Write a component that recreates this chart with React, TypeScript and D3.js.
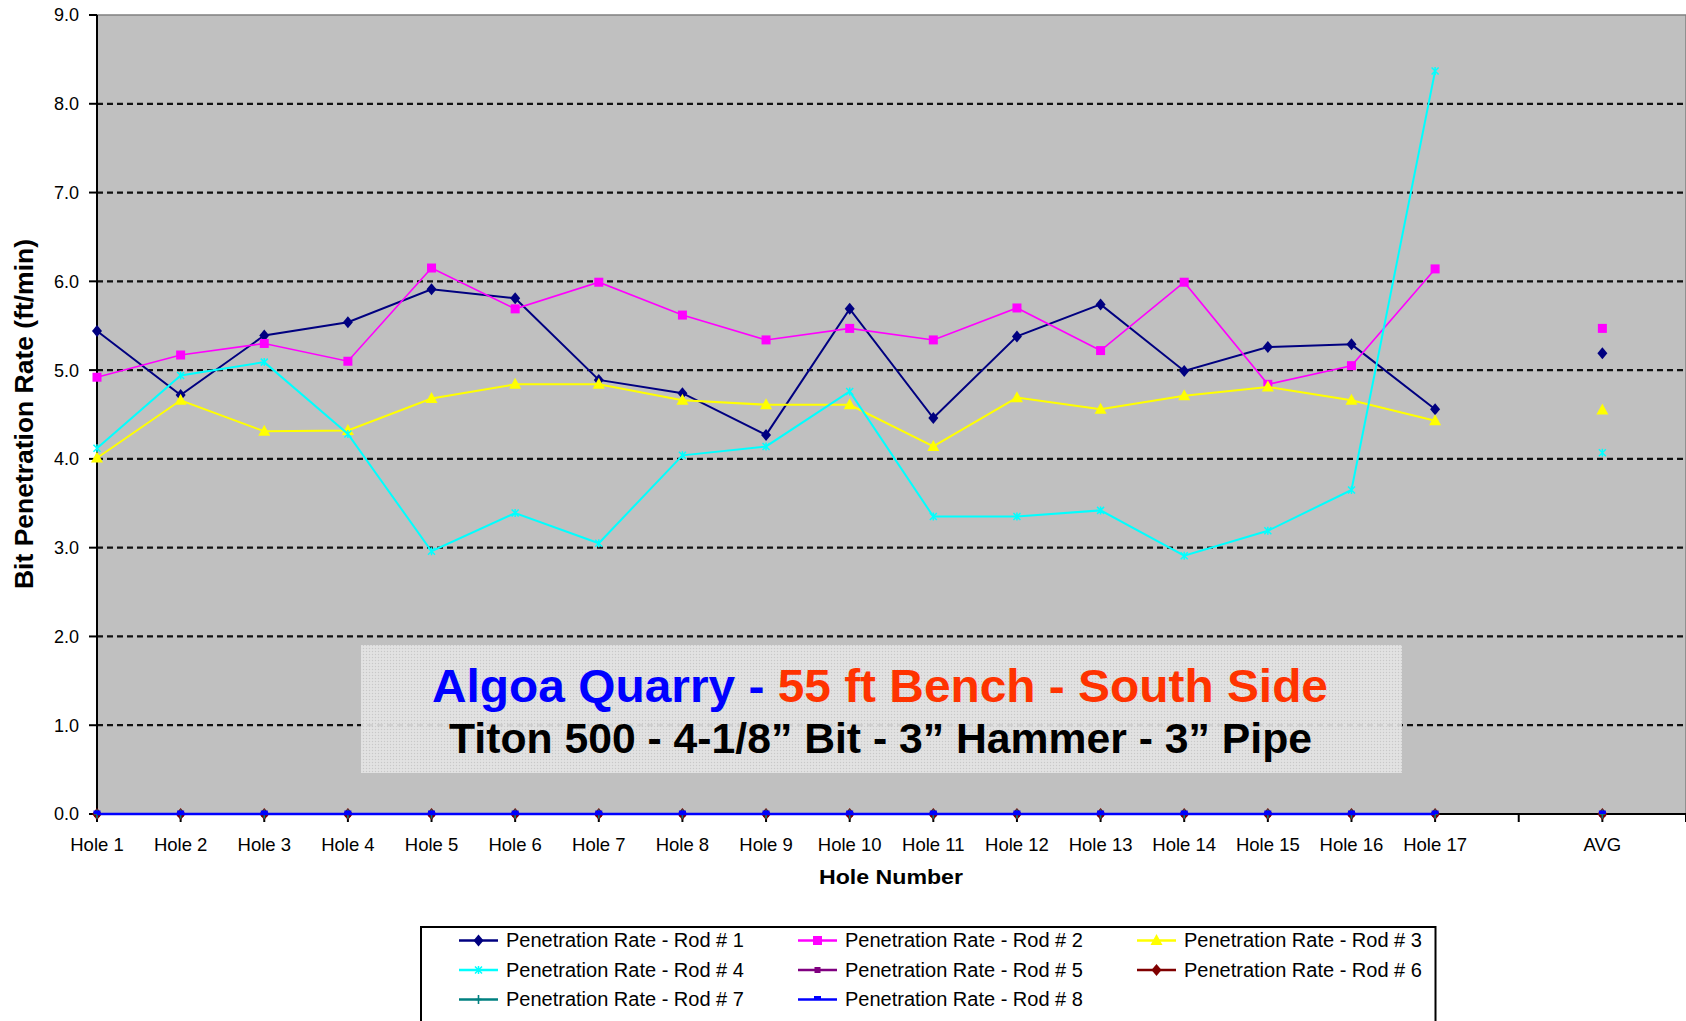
import React from "react";
import * as d3 from "d3";

const categories = ["Hole 1","Hole 2","Hole 3","Hole 4","Hole 5","Hole 6","Hole 7","Hole 8","Hole 9","Hole 10","Hole 11","Hole 12","Hole 13","Hole 14","Hole 15","Hole 16","Hole 17","","AVG"];

// null = no value (blank category)
const rod1 = [5.44,4.72,5.39,5.54,5.91,5.81,4.89,4.74,4.27,5.69,4.46,5.38,5.74,4.99,5.26,5.29,4.56,null,5.19];
const rod2 = [4.92,5.17,5.30,5.10,6.15,5.69,5.99,5.62,5.34,5.47,5.34,5.70,5.22,5.99,4.84,5.05,6.14,null,5.47];
const rod3 = [4.01,4.66,4.31,4.32,4.68,4.84,4.84,4.66,4.61,4.61,4.14,4.69,4.56,4.71,4.81,4.66,4.43,null,4.55];
const rod4 = [4.12,4.94,5.09,4.28,2.96,3.39,3.05,4.04,4.14,4.76,3.35,3.35,3.42,2.91,3.19,3.65,8.37,null,4.07];
const rod5 = [0,0,0,0,0,0,0,0,0,0,0,0,0,0,0,0,0,null,0];
const rod6 = [0,0,0,0,0,0,0,0,0,0,0,0,0,0,0,0,0,null,0];
const rod7 = [0,0,0,0,0,0,0,0,0,0,0,0,0,0,0,0,0,null,0];
const rod8 = [0,0,0,0,0,0,0,0,0,0,0,0,0,0,0,0,0,null,0];

const seriesNames = ["Penetration Rate - Rod # 1","Penetration Rate - Rod # 2","Penetration Rate - Rod # 3","Penetration Rate - Rod # 4","Penetration Rate - Rod # 5","Penetration Rate - Rod # 6","Penetration Rate - Rod # 7","Penetration Rate - Rod # 8"];
const seriesColors = ["#000080","#FF00FF","#FFFF00","#00FFFF","#800080","#800000","#008080","#0000FF"];
const seriesMarkers = ["diamond","square","triangle","x","smallsquare","diamond","plus","dash"];
const seriesWidths = [2,1.6,2,2,2,2,2,2.5];

const yTicks = [0,1,2,3,4,5,6,7,8,9];

const W = 1686, H = 1021;
const plotLeft = 97, plotRight = 1686, plotTop = 15, plotBottom = 814;
const FONT = "'Liberation Sans', Arial, Helvetica, sans-serif";

function Marker({ type, color, x, y }: { type: string; color: string; x: number; y: number }) {
  const t = `translate(${x},${y})`;
  switch (type) {
    case "diamond":
      return <path transform={t} d="M0,-6L5,0L0,6L-5,0Z" fill={color} />;
    case "square":
      return <rect transform={t} x={-4.5} y={-4.5} width={9} height={9} fill={color} />;
    case "triangle":
      return <path transform={t} d="M0,-6.5L6,4.5L-6,4.5Z" fill={color} />;
    case "x":
      return <path transform={t} d="M-3.5,-3.5L3.5,3.5M-3.5,3.5L3.5,-3.5M0,-4L0,4" stroke={color} strokeWidth={1.5} fill="none" />;
    case "smallsquare":
      return <rect transform={t} x={-3} y={-3} width={6} height={6} fill={color} />;
    case "plus":
      return <path transform={t} d="M0,-4.5L0,4.5M-3,0L3,0" stroke={color} strokeWidth={1.6} fill="none" />;
    case "dash":
      return <rect transform={t} x={-3.5} y={-3.5} width={7} height={3.5} fill={color} />;
    default:
      return null;
  }
}

export default function App() {
  const allSeries = [rod1, rod2, rod3, rod4, rod5, rod6, rod7, rod8];
  const x = d3.scaleLinear().domain([0, categories.length]).range([plotLeft, plotRight]);
  const y = d3.scaleLinear().domain([0, 9]).range([plotBottom, plotTop]);
  const line = d3
    .line<number | null>()
    .defined((d) => d !== null)
    .x((_, i) => x(i))
    .y((d) => y(d as number));

  const tickIdx = d3.range(categories.length + 1);

  const legendX = 421, legendY = 927;
  const legendCols = [0, 339, 678];
  const legendRows = [947, 976.5, 1006];

  return (
    <svg width={W} height={H} style={{ position: "absolute", left: 0, top: 0, background: "#fff" }} fontFamily={FONT}>
      <defs>
        <pattern id="stip" width={3} height={3} patternUnits="userSpaceOnUse">
          <rect width={3} height={3} fill="#e2e2e2" />
          <rect width={1} height={1} fill="#c9c9c9" />
          <rect x={1.5} y={1.5} width={1} height={1} fill="#f2f2f2" />
        </pattern>
      </defs>
      {/* plot area */}
      <rect x={plotLeft} y={plotTop} width={plotRight - plotLeft} height={plotBottom - plotTop} fill="#C0C0C0" stroke="#808080" strokeWidth={1.5} />
      {/* gridlines */}
      {yTicks.filter((t) => t > 0 && t < 9).map((t) => (
        <line key={t} x1={plotLeft} x2={plotRight} y1={y(t)} y2={y(t)} stroke="#111" strokeWidth={2.2} strokeDasharray="6,4" />
      ))}
      {/* title box */}
      <rect x={361} y={645} width={1041} height={128} fill="url(#stip)" opacity={0.9} />
      <text x={880} y={701.5} fontSize={46} fontWeight="bold" textAnchor="middle" textLength={896} lengthAdjust="spacingAndGlyphs">
        <tspan fill="#0000FF">Algoa Quarry - </tspan>
        <tspan fill="#FF3300">55 ft Bench - South Side</tspan>
      </text>
      <text x={880.5} y={752.5} fontSize={42} fontWeight="bold" textAnchor="middle" fill="#000" textLength={863} lengthAdjust="spacingAndGlyphs">
        Titon 500 - 4-1/8” Bit - 3” Hammer - 3” Pipe
      </text>
      {/* y axis */}
      <line x1={plotLeft} x2={plotLeft} y1={plotTop} y2={plotBottom} stroke="#000" strokeWidth={2} />
      {yTicks.map((t) => (
        <g key={t}>
          <line x1={plotLeft - 8} x2={plotLeft} y1={y(t)} y2={y(t)} stroke="#000" strokeWidth={2} />
          <text x={79} y={y(t)} dy="0.36em" fontSize={18} textAnchor="end" fill="#000">{d3.format(".1f")(t)}</text>
        </g>
      ))}
      {/* x axis */}
      <line x1={plotLeft} x2={plotRight} y1={plotBottom} y2={plotBottom} stroke="#000" strokeWidth={2} />
      {tickIdx.map((i) => (
        <line key={i} x1={x(i)} x2={x(i)} y1={plotBottom} y2={plotBottom + 8} stroke="#000" strokeWidth={2} />
      ))}
      {categories.map((c, i) => (
        <text key={i} x={x(i)} y={851} fontSize={18.5} textAnchor="middle" fill="#000">{c}</text>
      ))}
      <text x={891} y={884} fontSize={20} fontWeight="bold" textAnchor="middle" textLength={144} lengthAdjust="spacingAndGlyphs">Hole Number</text>
      <text transform="translate(33,414) rotate(-90)" fontSize={26} fontWeight="bold" textAnchor="middle" textLength={350} lengthAdjust="spacingAndGlyphs">Bit Penetration Rate (ft/min)</text>
      {/* series */}
      {allSeries.map((s, si) => (
        <g key={si}>
          <path d={line(s) || ""} fill="none" stroke={seriesColors[si]} strokeWidth={seriesWidths[si]} />
          {s.map((v, i) => (v === null ? null : <Marker key={i} type={seriesMarkers[si]} color={seriesColors[si]} x={x(i)} y={y(v)} />))}
        </g>
      ))}
      {/* legend */}
      <rect x={legendX} y={legendY} width={1014.5} height={140} fill="#fff" stroke="#000" strokeWidth={2} />
      {seriesNames.map((n, i) => {
        const col = i % 3;
        const row = Math.floor(i / 3);
        const lx = 459 + legendCols[col];
        const ly = legendRows[row] - 6.5;
        return (
          <g key={i}>
            <line x1={lx} x2={lx + 39} y1={ly} y2={ly} stroke={seriesColors[i]} strokeWidth={2.5} />
            <Marker type={seriesMarkers[i]} color={seriesColors[i]} x={lx + 19.5} y={ly} />
            <text x={lx + 47} y={legendRows[row]} fontSize={20} fill="#000">{n}</text>
          </g>
        );
      })}
    </svg>
  );
}
